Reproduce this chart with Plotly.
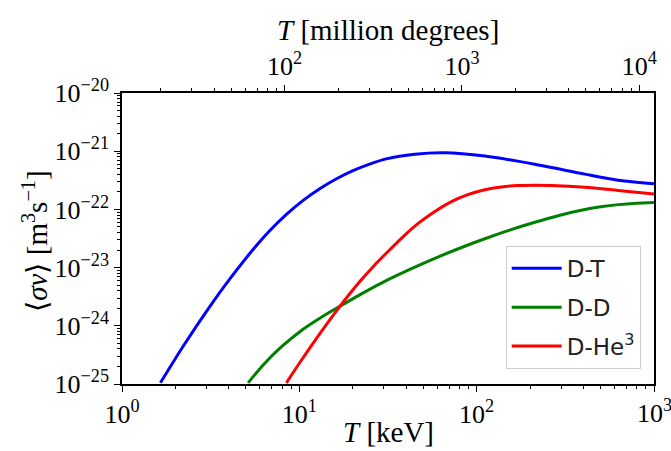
import math
import plotly.graph_objects as go

# Temperatures in keV and reactivities in m^3/s
T_DT = [1.647, 2.208, 3.126, 4.046, 5.483, 6.761, 8.453, 10.47, 13.03, 16.22, 20.09, 25.12,
        30.90, 44.67, 66.07, 111.2, 212.8, 407.4, 628.1, 1000]
sv_DT = [1.047e-25, 4.41e-25, 2.14e-24, 6.32e-24, 2.04e-23, 4.20e-23, 8.20e-23, 1.416e-22,
         2.265e-22, 3.36e-22, 4.63e-22, 6.05e-22, 7.38e-22, 8.87e-22, 9.40e-22, 8.24e-22,
         5.96e-22, 4.04e-22, 3.18e-22, 2.77e-22]

T_DD = [5.14, 6.31, 7.94, 10.50, 13.18, 16.52, 23.88, 30.90, 41.69, 58.08, 79.43, 111.2,
        154.9, 212.8, 295.1, 407.4, 501.2, 631.0, 794.3, 1000]
sv_DD = [1.047e-25, 2.19e-25, 4.37e-25, 8.75e-25, 1.38e-24, 2.07e-24, 3.94e-24, 5.96e-24,
         9.20e-24, 1.439e-23, 2.13e-23, 3.13e-23, 4.44e-23, 6.00e-23, 7.93e-23, 9.93e-23,
         1.107e-22, 1.208e-22, 1.279e-22, 1.318e-22]

T_DHe3 = [8.453, 10.0, 11.94, 14.13, 16.52, 19.05, 21.93, 26.30, 30.90, 38.02, 46.77, 57.54,
          72.11, 89.13, 111.2, 138.0, 171.4, 213.8, 264.2, 407.4, 628.1, 1000]
sv_DHe3 = [1.047e-25, 2.27e-25, 5.00e-25, 1.03e-24, 1.96e-24, 3.42e-24, 5.75e-24, 1.069e-23,
           1.762e-23, 3.28e-23, 5.74e-23, 9.06e-23, 1.358e-22, 1.79e-22, 2.18e-22, 2.43e-22,
           2.57e-22, 2.60e-22, 2.57e-22, 2.40e-22, 2.12e-22, 1.845e-22]

series_names = ["D-T", "D-D", "D-He<sup>3</sup>"]
series_colors = ["#0000ff", "#008000", "#ff0000"]

x_ticks = [1, 10, 100, 1000]
x_ticktext = ["10<sup>0</sup>", "10<sup>1</sup>", "10<sup>2</sup>", "10<sup>3</sup>"]
y_ticks = [1e-25, 1e-24, 1e-23, 1e-22, 1e-21, 1e-20]
y_ticktext = ["10<sup>−25</sup>", "10<sup>−24</sup>", "10<sup>−23</sup>",
              "10<sup>−22</sup>", "10<sup>−21</sup>", "10<sup>−20</sup>"]
top_ticks = [100, 1000, 10000]
top_ticktext = ["10<sup>2</sup>", "10<sup>3</sup>", "10<sup>4</sup>"]
MK_per_keV = 12.1  # conversion apparent in the top axis

x_title = "<i>T</i> [keV]"
top_title = "<i>T</i> [million degrees]"
y_title = "⟨<i>σv</i>⟩ [m<sup>3</sup>s<sup>−1</sup>]"

serif = "Liberation Serif"
sans = "DejaVu Sans"

fig = go.Figure()
for T, sv, name, col in zip([T_DT, T_DD, T_DHe3], [sv_DT, sv_DD, sv_DHe3],
                            series_names, series_colors):
    fig.add_trace(go.Scatter(x=T, y=sv, mode="lines", name=name, legendgroup=name,
                             line=dict(color=col, width=3, shape="spline", smoothing=0.8)))

# invisible trace so the top (million degrees) axis is drawn
fig.add_trace(go.Scatter(x=top_ticks, y=[y_ticks[0]] * len(top_ticks), xaxis="x2",
                         mode="markers", marker=dict(opacity=0), showlegend=False,
                         hoverinfo="skip"))

axis_common = dict(showgrid=False, zeroline=False, showline=True, linecolor="black",
                   linewidth=1.5, ticks="outside", ticklen=6, tickwidth=1.2,
                   tickcolor="black", automargin=False)
minor_ticks = dict(ticks="outside", ticklen=3.5, tickwidth=1, tickcolor="black",
                   dtick="D1", showgrid=False)
tick_font = dict(family=serif, size=26, color="black")
title_font = dict(family=serif, size=29, color="black")

# the last bottom tick label sits at the page edge; plotly would drop it, so place it as text
bottom_ticktext = x_ticktext[:-1] + [""]

fig.update_layout(
    width=671, height=451,
    margin=dict(l=122, r=17, t=93, b=67),
    paper_bgcolor="white", plot_bgcolor="white",
    showlegend=True,
    legend=dict(x=0.975, y=0.052, xanchor="right", yanchor="bottom",
                bgcolor="rgba(255,255,255,0.85)", bordercolor="#cccccc", borderwidth=1,
                font=dict(family=sans, size=23, color="#222222"),
                tracegroupgap=6, itemwidth=50),
    xaxis=dict(type="log", range=[0, 3], tickvals=x_ticks, ticktext=bottom_ticktext,
               tickfont=tick_font, minor=minor_ticks, **axis_common),
    xaxis2=dict(type="log", overlaying="x", side="top",
                range=[math.log10(x_ticks[0] * MK_per_keV), math.log10(x_ticks[-1] * MK_per_keV)],
                tickvals=top_ticks, ticktext=top_ticktext, tickfont=tick_font,
                minor=minor_ticks, **axis_common),
    yaxis=dict(type="log", range=[-25, -20], tickvals=y_ticks, ticktext=y_ticktext,
               tickfont=tick_font, mirror=True, minor=minor_ticks, **axis_common),
    annotations=[
        dict(text=x_ticktext[-1], xref="x", yref="paper", x=math.log10(x_ticks[-1]), y=0,
             yshift=-9, xanchor="center", yanchor="top", showarrow=False, font=tick_font),
        dict(text=x_title, xref="paper", yref="paper", x=0.5, y=-0.165,
             xanchor="center", yanchor="middle", showarrow=False, font=title_font),
        dict(text=top_title, xref="paper", yref="paper", x=0.5, y=1.215,
             xanchor="center", yanchor="middle", showarrow=False, font=title_font),
        dict(text=y_title, xref="paper", yref="paper", x=-0.163, y=0.49,
             xanchor="center", yanchor="middle", textangle=-90, showarrow=False,
             font=title_font),
    ],
)

fig.write_html("out.html", post_script="document.body.style.margin='0';",
               config={"displayModeBar": False})
